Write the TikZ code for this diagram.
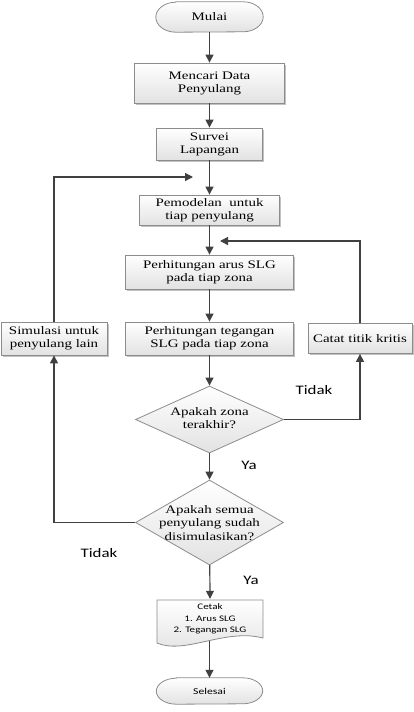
\documentclass[tikz,border=0pt]{standalone}
\usepackage{fontspec}
\setmainfont{Liberation Serif}[FakeStretch=1.3]
\newfontfamily\calib{Carlito}[FakeStretch=1.3]
\usetikzlibrary{shapes.geometric,arrows.meta,shadows}
\definecolor{linec}{HTML}{404040}
\definecolor{edgec}{HTML}{8C8C8C}
\definecolor{fillb}{HTML}{E2E2E2}
\begin{document}
\begin{tikzpicture}[x=1pt,y=-1pt,
  base/.style={draw=edgec, line width=0.8pt, top color=white, bottom color=fillb,
    inner sep=0pt, align=center, font=\fontsize{11.5}{13}\selectfont},
  procbox/.style={base, rectangle,
    drop shadow={shadow xshift=1.5pt,shadow yshift=-1.5pt,fill=gray!80,opacity=0.6}},
  termshape/.style={draw=edgec, line width=0.8pt, top color=white, bottom color=fillb},
  ghost/.style={rectangle, inner sep=0pt, align=center},
  decbox/.style={base, diamond},
  dectext/.style={align=center, inner sep=0pt, font=\fontsize{11.5}{13.5}\selectfont},
  arr/.style={draw=linec, line width=1.2pt, -{Triangle[length=8pt,width=8pt]}},
  lab/.style={font=\calib\fontsize{13}{15}\selectfont, inner sep=0pt}
]
\useasboundingbox (0,0) rectangle (414,712);

% terminals (elliptical ends)
\node[ghost, minimum width=107pt, minimum height=30pt, font=\fontsize{11.5}{13}\selectfont] (mulai) at (209.5,17) {};
\path[termshape] ([xshift=20pt]mulai.north west) -- ([xshift=-20pt]mulai.north east)
  arc[start angle=90,end angle=-90,x radius=20pt,y radius=15pt]
  -- ([xshift=20pt]mulai.south west)
  arc[start angle=270,end angle=90,x radius=20pt,y radius=15pt] -- cycle;
\node[font=\fontsize{11.5}{13}\selectfont, inner sep=0pt] at (mulai.center) {Mulai};

\node[ghost, minimum width=106pt, minimum height=26pt] (selesai) at (209.5,691) {};
\path[termshape] ([xshift=20pt]selesai.north west) -- ([xshift=-20pt]selesai.north east)
  arc[start angle=90,end angle=-90,x radius=20pt,y radius=13pt]
  -- ([xshift=20pt]selesai.south west)
  arc[start angle=270,end angle=90,x radius=20pt,y radius=13pt] -- cycle;
\node[font=\calib\fontsize{9}{11}\selectfont, inner sep=0pt] at (selesai.center) {Selesai};

% process boxes
\node[procbox, minimum width=150pt, minimum height=40pt] (mencari) at (209.5,83) {Mencari Data\\Penyulang};
\node[procbox, minimum width=106pt, minimum height=32pt] (survei) at (209.5,144) {Survei\\Lapangan};
\node[procbox, minimum width=140pt, minimum height=30pt] (pemodelan) at (209.5,210) {Pemodelan\ \ untuk\\tiap penyulang};
\node[procbox, minimum width=168pt, minimum height=34pt] (arus) at (209.5,272) {Perhitungan arus SLG\\pada tiap zona};
\node[procbox, minimum width=168pt, minimum height=33pt] (tegangan) at (209.5,338.5) {Perhitungan tegangan\\SLG pada tiap zona};
\node[procbox, minimum width=106pt, minimum height=33pt] (simulasi) at (54,338.5) {Simulasi untuk\\penyulang lain};
\node[procbox, minimum width=104pt, minimum height=30pt] (catat) at (360,338.5) {Catat titik kritis};

% decisions
\node[decbox, minimum width=148pt, minimum height=67pt] (d1) at (209.5,419.5) {};
\node[dectext] at (209.5,418) {Apakah zona\\terakhir?};
\node[decbox, minimum width=148pt, minimum height=85pt] (d2) at (209.5,522.5) {};
\node[dectext] at (209.5,523) {Apakah semua\\penyulang sudah\\disimulasikan?};

% document shape
\path[termshape] (157,600) -- (263,600) -- (263,638)
  .. controls (225,628) and (185,655) .. (157,643) -- cycle;
\node[ghost, minimum width=106pt, minimum height=40pt, font=\calib\fontsize{8.5}{11.5}\selectfont] (cetak) at (210,619) {Cetak\\1. Arus SLG\\2. Tegangan SLG};
\coordinate (cetakb) at (209.5,641);

% loop end points
\coordinate (l1) at (193,177);
\coordinate (l2) at (220,241);

% connectors
\draw[arr] (mulai) -- (mencari);
\draw[arr] (mencari) -- (survei);
\draw[arr] (survei) -- (pemodelan);
\draw[arr] (pemodelan) -- (arus);
\draw[arr] (arus) -- (tegangan);
\draw[arr] (tegangan) -- (d1);
\draw[arr] (d1) -- (d2);
\draw[arr] (d2) -- (cetak.north);
\draw[arr] (cetakb) -- (selesai);
\draw[arr] (d1.east) -| (catat.south);
\draw[arr] (catat.north) |- (l2);
\draw[arr] (d2.west) -| (simulasi.south);
\draw[arr] (simulasi.north) |- (l1);

% labels
\node[lab] at (314,390) {Tidak};
\node[lab] at (249,465) {Ya};
\node[lab] at (99,553) {Tidak};
\node[lab] at (251,580) {Ya};
\end{tikzpicture}
\end{document}
